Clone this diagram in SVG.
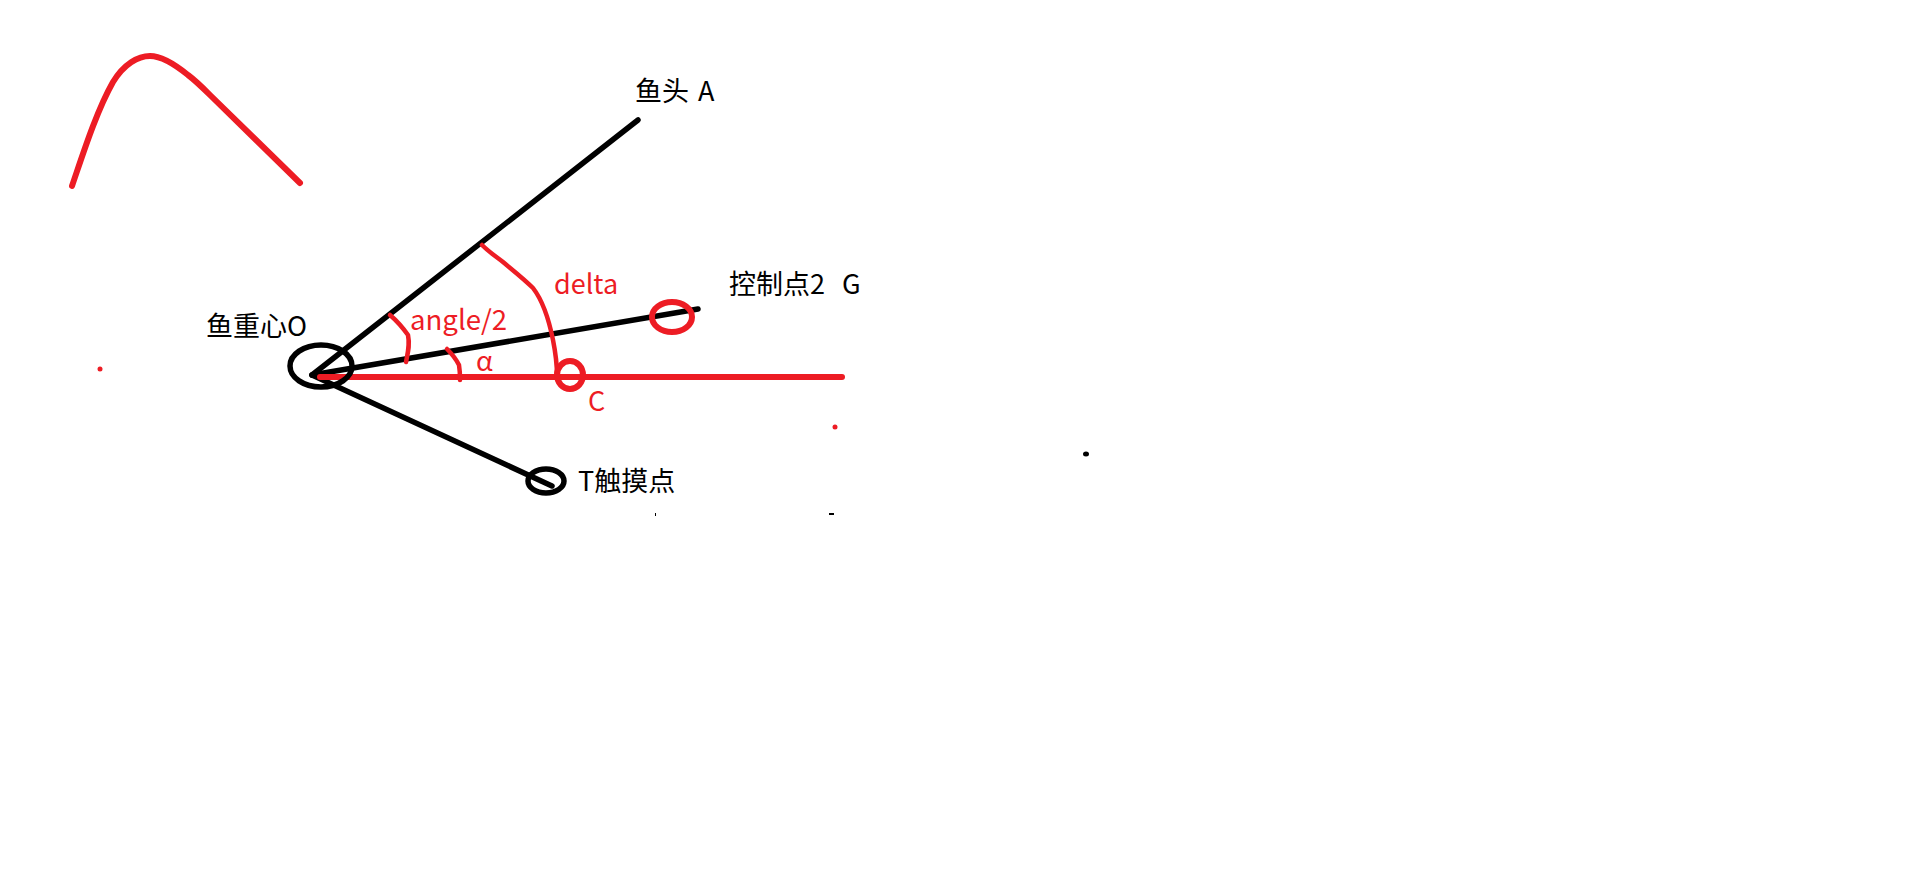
<svg xmlns="http://www.w3.org/2000/svg" width="1914" height="881" viewBox="0 0 1914 881">
<style>
.k{fill:none;stroke:#000;stroke-width:5.5;stroke-linecap:round;stroke-linejoin:round}
.r{fill:none;stroke:#ed1c24;stroke-width:6;stroke-linecap:round;stroke-linejoin:round}
.a{stroke-width:4.5}
text{font-family:"Noto Sans CJK SC","Noto Sans",sans-serif;font-size:27px}
.tk{fill:#000}
.tr{fill:#ed1c24}
</style>
<rect width="1914" height="881" fill="#fff"/>
<g id="connectors">
<path class="k" d="M312 375L638 120"/>
<path class="k" d="M312 375L698 309"/>
<path class="k" d="M312 375L552 486"/>
<path class="r" d="M320 377H842"/>
<path class="r" d="M72 186C82 157 96 112 113 82C124 64 138 56 150 56C160 56 172 62 188 75C196 81 203 88 210 95L300 183"/>
<path class="r a" d="M482 245C490 253 497 257 503 262C515 272 524 279 533 288C543 301 549 320 553 340C556 355 557 365 557 376"/>
<path class="r a" d="M390 315C397 321 403 328 408 335C410 345 408 352 406 362"/>
<path class="r a" d="M447 349C452 354 456 359 459 365C460 371 460 376 460 380"/>
</g>
<g id="node-O"><ellipse class="k" cx="321" cy="366" rx="31" ry="21"/><text class="tk" x="206" y="336">鱼重心O</text></g>
<g id="node-A"><text class="tk" x="635" y="101">鱼头</text><text class="tk" x="698" y="101">A</text></g>
<g id="node-G"><ellipse class="r" cx="672" cy="317" rx="20" ry="15"/><text class="tk" x="729" y="294">控制点2</text><text class="tk" x="842" y="294">G</text></g>
<g id="node-C"><ellipse class="r" cx="570" cy="375" rx="13" ry="14"/><text class="tr" x="588" y="411">C</text></g>
<g id="node-T"><ellipse class="k" cx="546" cy="481" rx="18" ry="12"/><text class="tk" x="578" y="491">T触摸点</text></g>
<g id="labels">
<text class="tr" x="410" y="330" style="font-size:27.6px">angle/2</text>
<text class="tr" x="554" y="294">delta</text>
<text class="tr" x="476" y="371">α</text>
</g>
<g id="specks">
<circle cx="100" cy="369" r="2.5" fill="#ed1c24"/>
<circle cx="835" cy="427" r="2.5" fill="#ed1c24"/>
<ellipse cx="1086" cy="454" rx="3" ry="2.5"/>
<rect x="655" y="513" width="1" height="3"/>
<rect x="829" y="513" width="5" height="2"/>
</g>
</svg>
